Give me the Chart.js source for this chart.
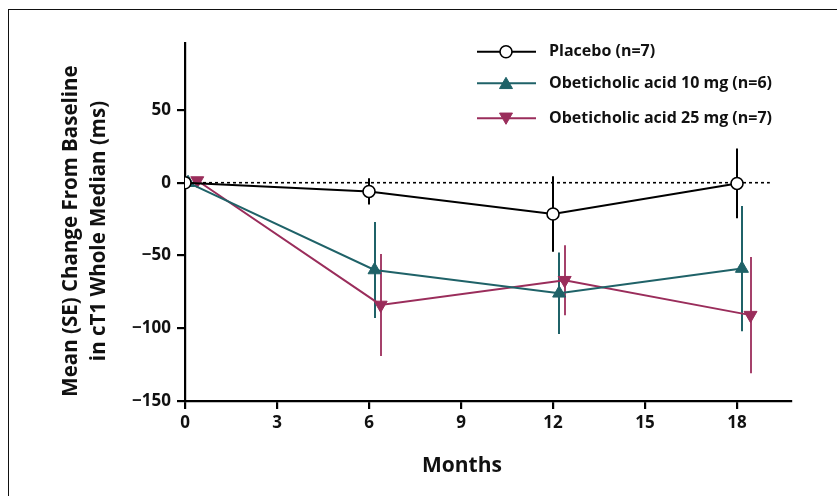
<!DOCTYPE html>
<html>
<head>
<meta charset="utf-8">
<script src="https://cdn.jsdelivr.net/npm/chart.js@4/dist/chart.umd.min.js"></script>
<style>
  html, body { margin: 0; padding: 0; background: #fff; }
  #wrap { position: relative; width: 837px; height: 496px; }
  #frame { position: absolute; left: 8px; top: 9px; right: -2px; bottom: -2px; border-left: 1.3px solid #111; border-top: 1.3px solid #111; pointer-events: none; }
  canvas { display: block; }
</style>
</head>
<body>
<div id="wrap">
  <canvas id="c" width="837" height="496"></canvas>
  <div id="frame"></div>
</div>
<script>
// ---- data ----
const seriesLabels = ['Placebo (n=7)', 'Obeticholic acid 10 mg (n=6)', 'Obeticholic acid 25 mg (n=7)'];
const placeboMonths = [0, 6, 12, 18];
const obe10Months   = [0.1, 6.18, 12.2, 18.16];
const obe25Months   = [0.4, 6.38, 12.38, 18.44];
const placeboMean = [0, -6, -21.5, -0.5];
const placeboSE   = [0, 9, 26, 24];
const obe10Mean   = [0, -60, -76, -59];
const obe10SE     = [0, 33, 28, 43];
const obe25Mean   = [1.5, -84, -67, -91];
const obe25SE     = [0, 35, 24, 40];
const xTicks = [0, 3, 6, 9, 12, 15, 18];
const yTicks = [50, 0, -50, -100, -150];
const yTitleLines = ['Mean (SE) Change From Baseline', 'in cT1 Whole Median (ms)'];
const xTitle = 'Months';

const TEAL = '#1f6268';
const MAG = '#9a2d5b';
const FONT = "'Open Sans', 'DejaVu Sans', sans-serif";

function pts(xs, ys) { return xs.map((x, i) => ({ x: x, y: ys[i] })); }

const errs = [placeboSE, obe10SE, obe25SE];

const errorBarPlugin = {
  id: 'errorBars',
  beforeDatasetsDraw(chart) {
    const ctx = chart.ctx;
    const xs = chart.scales.x, ys = chart.scales.y;
    // zero reference line
    ctx.save();
    ctx.strokeStyle = '#000';
    ctx.lineWidth = 1.6;
    ctx.setLineDash([3, 3]);
    ctx.beginPath();
    ctx.moveTo(xs.getPixelForValue(0), ys.getPixelForValue(0));
    ctx.lineTo(xs.getPixelForValue(19.07), ys.getPixelForValue(0));
    ctx.stroke();
    ctx.setLineDash([]);
    chart.data.datasets.forEach((ds, di) => {
      ctx.strokeStyle = ds.errorColor;
      ctx.lineWidth = 2;
      ds.data.forEach((p, i) => {
        const se = errs[di][i];
        if (!se) return;
        const px = Math.round(xs.getPixelForValue(p.x));
        ctx.beginPath();
        ctx.moveTo(px, ys.getPixelForValue(p.y + se));
        ctx.lineTo(px, ys.getPixelForValue(p.y - se));
        ctx.stroke();
      });
    });
    ctx.restore();
  },
  afterDraw(chart) {
    const ctx = chart.ctx;
    ctx.save();
    ctx.fillStyle = '#111';
    // y axis title
    ctx.font = "bold 20.5px " + FONT;
    ctx.textAlign = 'center';
    ctx.textBaseline = 'middle';
    ctx.translate(71, 231);
    ctx.rotate(-Math.PI / 2);
    ctx.fillText(yTitleLines[0], 0, 0);
    ctx.fillText(yTitleLines[1], 0, 28);
    ctx.restore();
    ctx.save();
    ctx.fillStyle = '#111';
    ctx.font = "bold 21px " + FONT;
    ctx.textAlign = 'center';
    ctx.textBaseline = 'middle';
    ctx.fillText(xTitle, 462, 466);
    // legend
    const rows = [51.7, 83.3, 118.3];
    chart.data.datasets.forEach((ds, di) => {
      const y = rows[di];
      ctx.strokeStyle = ds.borderColor;
      ctx.lineWidth = 2;
      ctx.beginPath();
      ctx.moveTo(477, y);
      ctx.lineTo(536, y);
      ctx.stroke();
      ctx.fillStyle = ds.pointBackgroundColor;
      ctx.strokeStyle = ds.pointBorderColor;
      ctx.lineWidth = ds.pointBorderWidth;
      Chart.helpers.drawPoint(ctx, {
        pointStyle: ds.pointStyle, rotation: ds.pointRotation || 0,
        radius: ds.pointRadius, borderWidth: ds.pointBorderWidth
      }, 506, y + (ds.pointStyle === 'triangle' ? (ds.pointRotation ? -1.5 : 1.5) : 0));
      ctx.fillStyle = '#111';
      ctx.font = "bold 16px " + FONT;
      ctx.textAlign = 'left';
      ctx.textBaseline = 'middle';
      ctx.fillText(ds.label, 549, y);
    });
    ctx.restore();
  }
};

new Chart(document.getElementById('c'), {
  type: 'scatter',
  data: {
    datasets: [
      {
        label: seriesLabels[0], data: pts(placeboMonths, placeboMean), showLine: true,
        borderColor: '#000', borderWidth: 2, errorColor: '#000',
        pointStyle: 'circle', pointRadius: 6, pointBackgroundColor: '#fff',
        pointBorderColor: '#000', pointBorderWidth: 1.6
      },
      {
        label: seriesLabels[1], data: pts(obe10Months, obe10Mean), showLine: true,
        borderColor: TEAL, borderWidth: 2, errorColor: TEAL,
        pointStyle: 'triangle', pointRadius: 7.5, pointBackgroundColor: TEAL,
        pointBorderColor: TEAL, pointBorderWidth: 1
      },
      {
        label: seriesLabels[2], data: pts(obe25Months, obe25Mean), showLine: true,
        borderColor: MAG, borderWidth: 2, errorColor: '#a5416b',
        pointStyle: 'triangle', pointRotation: 180, pointRadius: 7.5, pointBackgroundColor: MAG,
        pointBorderColor: MAG, pointBorderWidth: 1
      }
    ]
  },
  options: {
    responsive: false,
    animation: false,
    layout: { padding: { left: 0, right: 46, top: 43, bottom: 0 } },
    plugins: { legend: { display: false }, tooltip: { enabled: false } },
    elements: { line: { tension: 0 } },
    scales: {
      x: {
        type: 'linear', min: 0, max: 19.76,
        afterBuildTicks: s => { s.ticks = xTicks.map(v => ({ value: v })); },
        afterFit: s => { s.height = 95; },
        border: { display: true, color: '#000', width: 2.2 },
        grid: { display: true, drawOnChartArea: false, drawTicks: true, tickLength: 8, color: '#000', lineWidth: 2.2 },
        ticks: { color: '#111', font: { family: FONT, size: 17, weight: 'bold' }, padding: 4, maxRotation: 0 }
      },
      y: {
        type: 'linear', min: -150, max: 96,
        afterBuildTicks: s => { s.ticks = yTicks.map(v => ({ value: v })); },
        afterFit: s => { s.width = 185; },
        border: { display: true, color: '#000', width: 2.2 },
        grid: { display: true, drawOnChartArea: false, drawTicks: true, tickLength: 8, color: '#000', lineWidth: 2.2 },
        ticks: {
          color: '#111', font: { family: FONT, size: 17, weight: 'bold' }, padding: 6,
          callback: v => (v < 0 ? '\u2212' + Math.abs(v) : String(v))
        }
      }
    }
  },
  plugins: [errorBarPlugin]
});
</script>
</body>
</html>
